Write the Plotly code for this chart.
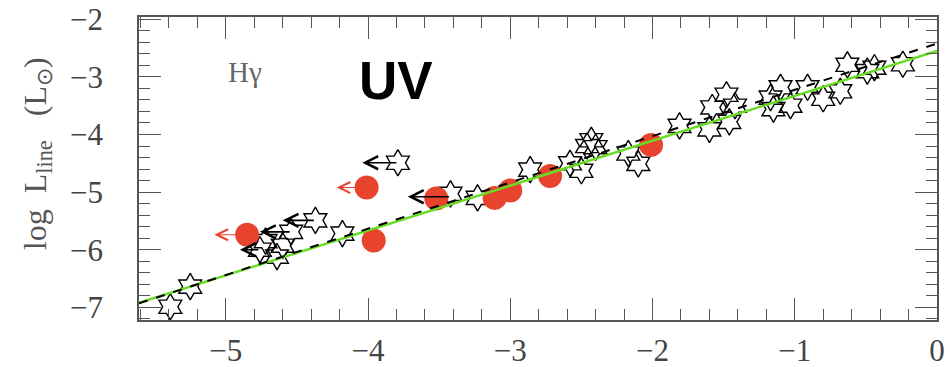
import plotly.graph_objects as go

# ---- data ----
star_x = [-5.39, -5.25, -4.76, -4.64, -4.60, -4.72, -4.54, -4.37, -4.18, -3.79,
          -3.42, -3.23, -2.86, -2.58, -2.50, -2.43, -2.40, -2.46, -2.10, -2.17,
          -1.81, -1.60, -1.58, -1.48, -1.46, -1.42, -1.17, -1.10, -1.15, -1.03,
          -0.91, -0.80, -0.68, -0.63, -0.49, -0.44, -0.24]
star_y = [-6.99, -6.64, -6.00, -6.12, -5.93, -5.85, -5.69, -5.49, -5.72, -4.49,
          -5.03, -5.10, -4.61, -4.50, -4.63, -4.10, -4.22, -4.20, -4.51, -4.33,
          -3.85, -3.91, -3.53, -3.31, -3.78, -3.50, -3.36, -3.18, -3.56, -3.50,
          -3.18, -3.38, -3.25, -2.79, -2.90, -2.84, -2.78]

# stars that are upper limits: (x, y, arrow end x)
star_lim_x = [-4.76, -4.54, -4.37, -3.79, -3.42]
star_lim_y = [-6.00, -5.69, -5.49, -4.49, -5.08]
star_lim_to = [-4.90, -4.76, -4.60, -4.04, -3.72]

red_x = [-4.85, -4.01, -3.96, -3.52, -3.11, -3.00, -2.72, -2.01]
red_y = [-5.74, -4.92, -5.84, -5.11, -5.10, -4.97, -4.72, -4.18]

red_lim_x = [-4.85, -4.01]
red_lim_y = [-5.74, -4.92]
red_lim_to = [-5.08, -4.22]

fit_x = [-5.61, 0.0]
green_y = [-6.92, -2.55]
dashed_y = [-6.93, -2.42]

x_ticks = [-5, -4, -3, -2, -1, 0]
y_ticks = [-7, -6, -5, -4, -3, -2]

RED = "#E8432D"
AXC = "#555555"
SERIF = "Liberation Serif, Times New Roman, serif"

fig = go.Figure()

fig.add_trace(go.Scatter(
    x=star_x, y=star_y, mode="markers",
    marker=dict(symbol="hexagram-open", size=20, color="black",
                line=dict(width=1.4, color="black")),
    showlegend=False, hoverinfo="skip"))

fig.add_trace(go.Scatter(
    x=red_x, y=red_y, mode="markers",
    marker=dict(symbol="circle", size=24, color=RED, line=dict(width=0)),
    showlegend=False, hoverinfo="skip"))

fig.add_trace(go.Scatter(
    x=fit_x, y=green_y, mode="lines",
    line=dict(color="#66dd22", width=2.5),
    showlegend=False, hoverinfo="skip"))

fig.add_trace(go.Scatter(
    x=fit_x, y=dashed_y, mode="lines",
    line=dict(color="black", width=2, dash="dash"),
    showlegend=False, hoverinfo="skip"))

annotations = []
for x0, y0, x1 in zip(star_lim_x, star_lim_y, star_lim_to):
    annotations.append(dict(x=x1, y=y0, ax=x0, ay=y0, xref="x", yref="y",
                            axref="x", ayref="y", text="", showarrow=True,
                            arrowhead=5, arrowsize=1.6, arrowwidth=1.6,
                            arrowcolor="black", standoff=0, startstandoff=0))
for x0, y0, x1 in zip(red_lim_x, red_lim_y, red_lim_to):
    annotations.append(dict(x=x1, y=y0, ax=x0, ay=y0, xref="x", yref="y",
                            axref="x", ayref="y", text="", showarrow=True,
                            arrowhead=5, arrowsize=2.2, arrowwidth=1,
                            arrowcolor=RED, standoff=0, startstandoff=0))

annotations.append(dict(x=0.133, y=0.818, xref="paper", yref="paper",
                        xanchor="center", yanchor="middle",
                        text="Hγ", showarrow=False,
                        font=dict(family=SERIF, size=29, color="#666666")))
annotations.append(dict(x=0.322, y=0.792, xref="paper", yref="paper",
                        xanchor="center", yanchor="middle",
                        text="<b>UV</b>", showarrow=False,
                        font=dict(family="Liberation Sans, Arial, sans-serif", size=53, color="black")))
annotations.append(dict(x=-0.128, y=0.55, xref="paper", yref="paper",
                        xanchor="center", yanchor="middle",
                        text="log  L<sub>line</sub>   (L<sub>⊙</sub>)",
                        textangle=-90, showarrow=False,
                        font=dict(family=SERIF, size=32, color="#555555")))

axis_common = dict(
    automargin=False,
    showgrid=False, zeroline=False, showline=True, linecolor=AXC, linewidth=1.5,
    mirror="ticks", ticks="inside", ticklen=22, tickwidth=1.3, tickcolor=AXC,
    minor=dict(ticks="inside", ticklen=11, tickwidth=1.1, tickcolor=AXC, dtick=0.2, tick0=0),
    tickfont=dict(family=SERIF, size=31, color="#444444"),
)

fig.update_xaxes(range=[-5.61, 0.0], tickmode="array", tickvals=x_ticks,
                 ticklabelstandoff=2, **axis_common)
fig.update_yaxes(range=[-7.22, -1.96], tickmode="array", tickvals=y_ticks,
                 ticklabelstandoff=28, **axis_common)

fig.update_layout(
    width=950, height=367,
    margin=dict(l=139, r=13, t=17, b=47),
    paper_bgcolor="white", plot_bgcolor="white",
    annotations=annotations,
)

fig.write_html("out.html")
